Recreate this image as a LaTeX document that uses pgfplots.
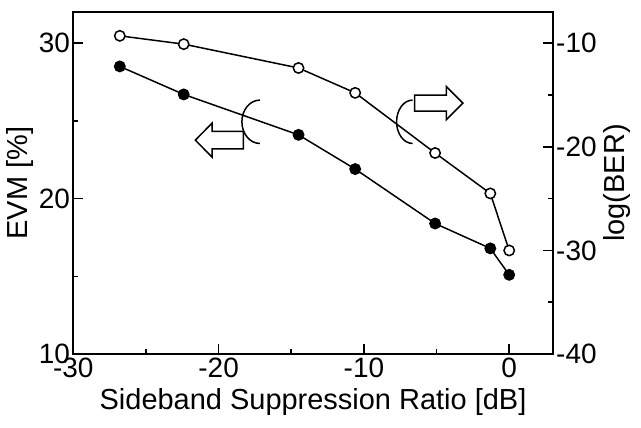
\documentclass[border={2.2pt 2pt 3pt 5.5pt}]{standalone}
\usepackage{fontspec}
\setmainfont{Liberation Sans}
\usepackage{pgfplots}
\pgfplotsset{compat=1.18}

\pgfplotsset{
  evmbase/.style={
    scale only axis,
    width=240pt, height=171.25pt,
    xmin=-30, xmax=3,
    tick align=inside,
    major tick length=5pt,
    minor tick length=2.5pt,
    every tick/.style={black, line width=0.8pt},
    every minor tick/.style={black, line width=0.8pt},
    axis line style={line width=1pt},
    /pgf/number format/assume math mode=true,
    tick label style={font=\fontsize{14}{16}\selectfont},
    yticklabel style={inner xsep=1.5pt},
    xticklabel style={inner ysep=1.5pt},
    label style={font=\fontsize{14.5}{17}\selectfont},
    ylabel style={inner sep=1pt},
    xlabel style={inner ysep=4pt},
  }
}

\begin{document}
\begin{tikzpicture}
\begin{axis}[
    evmbase,
    ymin=10, ymax=32,
    xtick={-30,-20,-10,0},
    minor x tick num=1,
    ytick={10,20,30},
    minor y tick num=1,
    xtick pos=bottom, ytick pos=left,
    xlabel={Sideband Suppression Ratio [dB]},
    ylabel={EVM [\%]},
]
\addplot[black, line width=0.75pt, mark=*, mark size=2.6pt,
         mark options={fill=black}]
  coordinates {
    (-26.8,28.5) (-22.4,26.7) (-14.5,24.1) (-10.6,21.9)
    (-5.1,18.4) (-1.3,16.8) (0,15.1)
  };

% left marker: bracket and arrow to the EVM axis
\draw[line width=0.75pt] (axis cs:-17.16,24.94) ++(0pt,10.85pt)
  arc[start angle=90, end angle=270, x radius=9pt, y radius=10.85pt];
\draw[line width=0.75pt, fill=white] (axis cs:-21.6,23.76)
  -- ++(8.35pt,8.5pt) -- ++(0pt,-4.1pt) -- ++(15.65pt,0pt)
  -- ++(0pt,-8.8pt) -- ++(-15.65pt,0pt) -- ++(0pt,-4.1pt) -- cycle;

% right marker: bracket and arrow to the BER axis
\draw[line width=0.75pt] (axis cs:-6.65,24.94) ++(0pt,10.85pt)
  arc[start angle=90, end angle=270, x radius=8pt, y radius=10.85pt];
\draw[line width=0.75pt, fill=white] (axis cs:-3.19,26.14)
  -- ++(-8.3pt,8.35pt) -- ++(0pt,-4.4pt) -- ++(-15.85pt,0pt)
  -- ++(0pt,-7.9pt) -- ++(15.85pt,0pt) -- ++(0pt,-4.4pt) -- cycle;
\end{axis}

\begin{axis}[
    evmbase,
    ymin=-40, ymax=-7,
    axis x line=none,
    axis y line*=right,
    ytick={-40,-30,-20,-10},
    minor y tick num=1,
    ylabel={log(BER)},
    ylabel style={inner sep=2pt},
]
\addplot[black, line width=0.75pt, mark=*, mark size=2.6pt,
         mark options={fill=white, line width=0.75pt}]
  coordinates {
    (-26.8,-9.3) (-22.4,-10.1) (-14.5,-12.4) (-10.6,-14.8)
    (-5.1,-20.6) (-1.3,-24.5) (0,-30.0)
  };
\end{axis}
\end{tikzpicture}
\end{document}
